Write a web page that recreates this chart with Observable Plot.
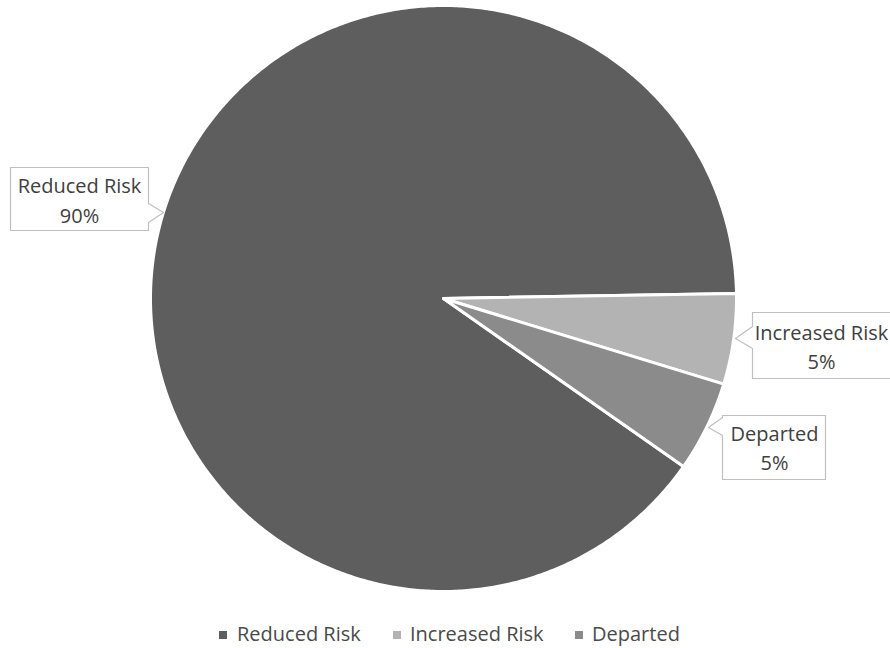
<!DOCTYPE html>
<html>
<head>
<meta charset="utf-8">
<script src="https://cdn.jsdelivr.net/npm/d3@7"></script>
<script src="https://cdn.jsdelivr.net/npm/@observablehq/plot@0.6"></script>
<style>
  html, body { margin: 0; padding: 0; background: #fff; overflow: hidden; }
  #chart svg { display: block; overflow: hidden; }
  #legend { position: relative; height: 43px; font-family: "Open Sans", sans-serif; font-size: 20px; color: #4a4a4a; }
  #legend .sw { position: absolute; width: 8px; height: 8px; top: 26px; }
  #legend .lbl { position: absolute; top: 17px; line-height: 24px; white-space: nowrap; }
</style>
</head>
<body>
<div id="chart"></div>
<div id="legend"></div>
<script>
// ---- data ----
const categories = ["Reduced Risk", "Increased Risk", "Departed"];
const values = [90, 5, 5];
const pctLabels = ["90%", "5%", "5%"];
const colors = ["#5e5e5e", "#b3b3b3", "#8b8b8b"];

// ---- layout ----
const W = 890, H = 605;
const cx = 443, cy = 298, R = 293;
const startDeg = 125;
const callouts = [
  {box: [10, 167, 148, 230], side: "right", base: [203, 222], tip: [163, 212], tx: 79, ty: [186, 216]},
  {box: [752, 312, 900, 378], side: "left", base: [326, 348], tip: [735, 338], tx: 821, ty: [333, 362]},
  {box: [722, 415, 825, 479], side: "left", base: [417, 435], tip: [708, 427], tx: 774, ty: [434, 463]}
];
const legendPos = [[219, 237], [393, 410], [575, 592]];

const pie = d3.pie().sort(null).startAngle(startDeg * Math.PI / 180).endAngle(startDeg * Math.PI / 180 + 2 * Math.PI);
const arcs = pie(values);

const slicePts = [];
arcs.forEach((a, i) => {
  const name = categories[i];
  slicePts.push({name, x: cx, y: cy});
  const n = Math.max(8, Math.ceil((a.endAngle - a.startAngle) / (0.5 * Math.PI / 180)));
  for (let k = 0; k <= n; k++) {
    const t = a.startAngle + (a.endAngle - a.startAngle) * k / n;
    slicePts.push({name, x: cx + R * Math.sin(t), y: cy - R * Math.cos(t)});
  }
  slicePts.push({name, x: cx, y: cy});
});

const calloutPts = [];
callouts.forEach((c, i) => {
  const [x0, y0, x1, y1] = c.box;
  let pts;
  if (c.side === "right") {
    pts = [[x0, y0], [x1, y0], [x1, c.base[0]], c.tip, [x1, c.base[1]], [x1, y1], [x0, y1], [x0, y0]];
  } else {
    pts = [[x0, y0], [x1, y0], [x1, y1], [x0, y1], [x0, c.base[1]], c.tip, [x0, c.base[0]], [x0, y0]];
  }
  pts.forEach(p => calloutPts.push({name: categories[i], x: p[0], y: p[1]}));
});

const textRows = [];
callouts.forEach((c, i) => {
  textRows.push({x: c.tx, y: c.ty[0], t: categories[i]});
  textRows.push({x: c.tx, y: c.ty[1], t: pctLabels[i]});
});

const colorOf = Object.fromEntries(categories.map((c, i) => [c, colors[i]]));

const chart = Plot.plot({
  width: W, height: H,
  margin: 0,
  x: {domain: [0, W], range: [0, W], axis: null},
  y: {domain: [0, H], range: [0, H], axis: null},
  style: {fontFamily: "'Open Sans', sans-serif", background: "#fff"},
  marks: [
    Plot.line(slicePts, {x: "x", y: "y", z: "name", fill: d => colorOf[d.name], stroke: "white", strokeWidth: 3, strokeLinejoin: "round"}),
    Plot.line(calloutPts, {x: "x", y: "y", z: "name", fill: "white", stroke: "#bfbfbf", strokeWidth: 1.2}),
    Plot.text(textRows, {x: "x", y: "y", text: "t", fontSize: 20, fill: "#404040", textAnchor: "middle"})
  ]
});
document.getElementById("chart").appendChild(chart);

const legend = document.getElementById("legend");
categories.forEach((c, i) => {
  const sw = document.createElement("span");
  sw.className = "sw";
  sw.style.left = legendPos[i][0] + "px";
  sw.style.background = colors[i];
  legend.appendChild(sw);
  const lbl = document.createElement("span");
  lbl.className = "lbl";
  lbl.style.left = legendPos[i][1] + "px";
  lbl.textContent = c;
  legend.appendChild(lbl);
});
</script>
</body>
</html>
